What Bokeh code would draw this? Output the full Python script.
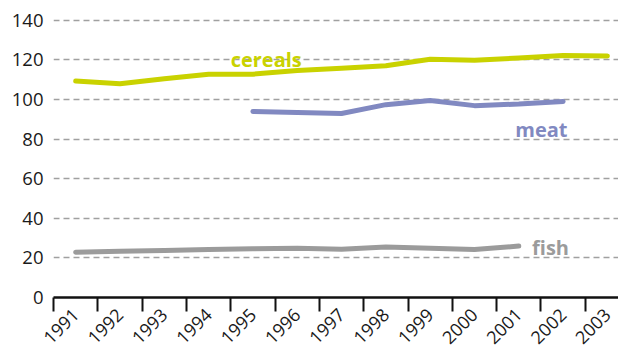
from bokeh.plotting import figure
from bokeh.models import FixedTicker, Range1d
from bokeh.embed import file_html
from bokeh.resources import INLINE
from bokeh.core.properties import value

# ---- data ----
years = [1991, 1992, 1993, 1994, 1995, 1996, 1997, 1998, 1999, 2000, 2001, 2002, 2003]
tick_labels = ["1991", "1992", "1993", "1994", "1995", "1996", "1997",
               "1998", "1999", "2000", "2001", "2002", "2003"]
y_ticks = [0, 20, 40, 60, 80, 100, 120, 140]

cereals_years = years
cereals = [109.3, 108.0, 110.5, 112.8, 112.8, 114.6, 115.8, 117.0, 120.3, 119.8, 121.0, 122.2, 122.0]

meat_years = [1995, 1996, 1997, 1998, 1999, 2000, 2001, 2002]
meat = [94.0, 93.4, 92.9, 97.4, 99.5, 96.9, 97.7, 99.0]

fish_years = [1991, 1992, 1993, 1994, 1995, 1996, 1997, 1998, 1999, 2000, 2001]
fish = [22.9, 23.3, 23.8, 24.3, 24.6, 24.9, 24.4, 25.5, 24.9, 24.2, 26.0]

series_names = ["cereals", "meat", "fish"]

# ---- styles ----
C_CEREALS = "#c9d200"
C_MEAT = "#8189c1"
C_FISH = "#9b9b9b"
FONT = "Open Sans"

p = figure(width=618, height=352, output_backend="svg", toolbar_location=None,
           x_range=Range1d(1990.5, 2003.25), y_range=Range1d(0, 150),
           min_border_left=53, min_border_right=0, min_border_top=0,
           min_border_bottom=52)
p.outline_line_color = None
p.background_fill_color = "white"
p.border_fill_color = "white"

# grid
p.xgrid.grid_line_color = None
p.ygrid.ticker = FixedTicker(ticks=y_ticks)
p.ygrid.grid_line_color = "#a0a0a0"
p.ygrid.grid_line_width = 1.3
p.ygrid.grid_line_dash = "6 4"

# y axis
p.yaxis.ticker = FixedTicker(ticks=y_ticks)
p.yaxis.axis_line_color = None
p.yaxis.major_tick_line_color = None
p.yaxis.minor_tick_line_color = None
p.yaxis.major_tick_out = 0
p.yaxis.major_tick_in = 0
p.yaxis.major_label_standoff = 10
p.yaxis.major_label_text_font = FONT
p.yaxis.major_label_text_font_size = "18.5px"
p.yaxis.major_label_text_color = "#1a1a1a"

# x axis
boundaries = [y - 0.5 for y in years] + [years[-1] + 0.5]
p.xaxis.ticker = FixedTicker(ticks=years, minor_ticks=boundaries)
p.xaxis.major_label_overrides = {y: t for y, t in zip(years, tick_labels)}
p.xaxis.axis_line_color = "#111111"
p.xaxis.axis_line_width = 2.5
p.xaxis.major_tick_line_color = None
p.xaxis.major_tick_out = 14
p.xaxis.major_tick_in = 0
p.xaxis.minor_tick_line_color = "#111111"
p.xaxis.minor_tick_line_width = 2
p.xaxis.minor_tick_out = 14
p.xaxis.minor_tick_in = 0
p.xaxis.major_label_orientation = 0.785398
p.xaxis.major_label_standoff = 0
p.xaxis.major_label_text_font = FONT
p.xaxis.major_label_text_font_size = "18px"
p.xaxis.major_label_text_color = "#1a1a1a"

# lines
for xs, ys, c in [(fish_years, fish, C_FISH), (meat_years, meat, C_MEAT),
                  (cereals_years, cereals, C_CEREALS)]:
    p.line(xs, ys, line_color=c, line_width=5, line_cap="round", line_join="round")

# series labels (annotation positions)
label_x = [1995.3, 2002.1, 2001.3]
label_y = [120.3, 84.9, 25.2]
label_align = ["center", "right", "left"]
label_colors = [C_CEREALS, C_MEAT, C_FISH]
for name, lx, ly, al, c in zip(series_names, label_x, label_y, label_align, label_colors):
    p.text(x=[lx], y=[ly], text=[name], text_align=al, text_baseline="alphabetic",
           text_font=value(FONT), text_font_style="bold", text_font_size="20px",
           text_color=c)

open("out.html", "w").write(file_html(p, INLINE))
